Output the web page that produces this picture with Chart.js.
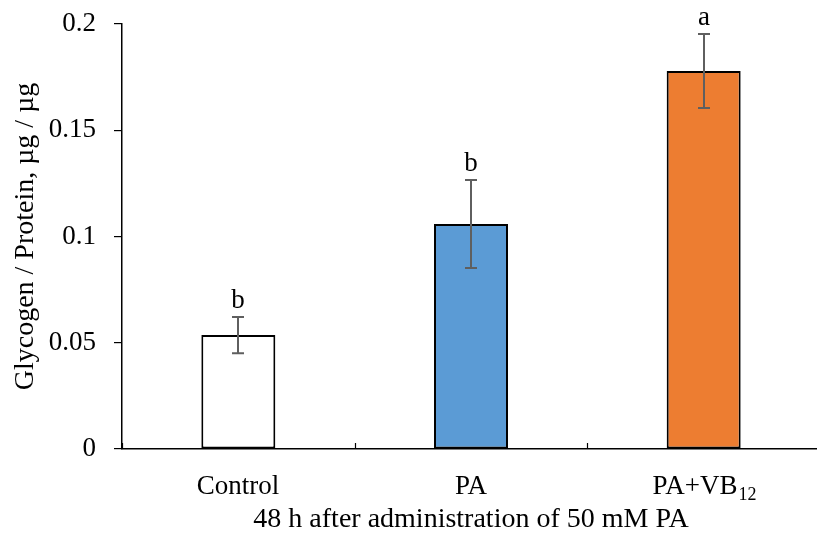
<!DOCTYPE html>
<html>
<head>
<meta charset="utf-8">
<script src="https://cdn.jsdelivr.net/npm/chart.js@4.4.1/dist/chart.umd.min.js"></script>
<style>
  html, body { margin: 0; padding: 0; overflow: hidden; background: #fff; }
</style>
</head>
<body>
<canvas id="glycogenChart" width="830" height="535"></canvas>
<script>
// groups and their subscript part (PA+VB12)
const groups = ['Control', 'PA', 'PA+VB'];
const groupSub = ['', '', '12'];
// glycogen / protein (µg / µg) and error
const glycogen = [0.0536, 0.1059, 0.1779];
const errHalf = [0.0085, 0.0207, 0.0174];
const sigLetters = ['b', 'b', 'a'];
const yTicks = [0, 0.05, 0.1, 0.15, 0.2];
const barColors = ['#FFFFFF', '#5B9BD5', '#ED7D31'];

const FONT = "'Liberation Serif', 'Times New Roman', serif";

// error bars, letters, category labels and inner tick marks
const extras = {
  id: 'extras',
  afterDatasetsDraw(chart) {
    const ctx = chart.ctx;
    const x = chart.scales.x, y = chart.scales.y;
    const area = chart.chartArea;
    ctx.save();

    // little tick marks between categories, pointing up
    ctx.strokeStyle = '#000';
    ctx.lineWidth = 1.2;
    const step = x.getPixelForValue(1) - x.getPixelForValue(0);
    for (let i = 0; i <= groups.length; i++) {
      const px = Math.round(x.getPixelForValue(i) - step / 2) + 0.5;
      ctx.beginPath();
      ctx.moveTo(px, area.bottom);
      ctx.lineTo(px, area.bottom - 6);
      ctx.stroke();
    }

    glycogen.forEach((v, i) => {
      const cx = Math.round(x.getPixelForValue(i));
      const top = y.getPixelForValue(v + errHalf[i]);
      const bot = y.getPixelForValue(v - errHalf[i]);
      ctx.strokeStyle = '#5f5f5f';
      ctx.lineWidth = 2;
      ctx.beginPath();
      ctx.moveTo(cx, top); ctx.lineTo(cx, bot);
      ctx.moveTo(cx - 6, top); ctx.lineTo(cx + 6, top);
      ctx.moveTo(cx - 6, bot); ctx.lineTo(cx + 6, bot);
      ctx.stroke();

      ctx.fillStyle = '#000';
      ctx.textAlign = 'center';
      ctx.textBaseline = 'alphabetic';
      ctx.font = '27px ' + FONT;
      ctx.fillText(sigLetters[i], cx, top - 9);

      // category label with optional subscript
      ctx.textAlign = 'left';
      const main = groups[i], sub = groupSub[i];
      ctx.font = '27px ' + FONT;
      const wMain = ctx.measureText(main).width;
      ctx.font = '18px ' + FONT;
      const wSub = sub ? ctx.measureText(sub).width : 0;
      const x0 = cx - (wMain + wSub) / 2;
      ctx.font = '27px ' + FONT;
      ctx.fillText(main, x0, 494);
      if (sub) {
        ctx.font = '18px ' + FONT;
        ctx.fillText(sub, x0 + wMain + 1, 500);
      }
    });
    ctx.restore();
  }
};

new Chart(document.getElementById('glycogenChart'), {
  type: 'bar',
  data: {
    labels: groups.map((g, i) => g + groupSub[i]),
    datasets: [{
      data: glycogen,
      backgroundColor: barColors,
      borderColor: '#000',
      borderWidth: 2,
      borderSkipped: false,
      barPercentage: 0.318,
      categoryPercentage: 1
    }]
  },
  options: {
    responsive: false,
    animation: false,
    devicePixelRatio: 1,
    layout: { padding: { top: 24, right: 10, bottom: 0, left: 0 } },
    plugins: { legend: { display: false }, tooltip: { enabled: false } },
    scales: {
      x: {
        offset: true,
        grid: { display: false },
        border: { display: true, color: '#000', width: 1.5 },
        ticks: { display: false },
        title: {
          display: true,
          text: '48 h after administration of 50 mM PA',
          color: '#000',
          font: { family: FONT, size: 28, lineHeight: 1 },
          padding: { top: 0, bottom: 1 }
        },
        afterFit: s => { s.height = 86; s.paddingLeft = 0; s.paddingRight = 0; }
      },
      y: {
        min: 0,
        max: 0.2,
        afterBuildTicks: s => { s.ticks = yTicks.map(v => ({ value: v })); },
        grid: { display: true, drawOnChartArea: false, drawTicks: true, tickLength: 8, color: '#000', lineWidth: 1.2 },
        border: { display: true, color: '#000', width: 1.5 },
        ticks: {
          padding: 18,
          color: '#000',
          font: { family: FONT, size: 27 },
          callback: v => String(v)
        },
        title: {
          display: true,
          text: 'Glycogen / Protein, µg / µg',
          color: '#000',
          font: { family: FONT, size: 28, lineHeight: 1.2 },
          padding: { top: 9, bottom: 0 }
        },
        afterFit: s => { s.width = 122; s.paddingTop = 0; s.paddingBottom = 0; }
      }
    }
  },
  plugins: [extras]
});
</script>
</body>
</html>
